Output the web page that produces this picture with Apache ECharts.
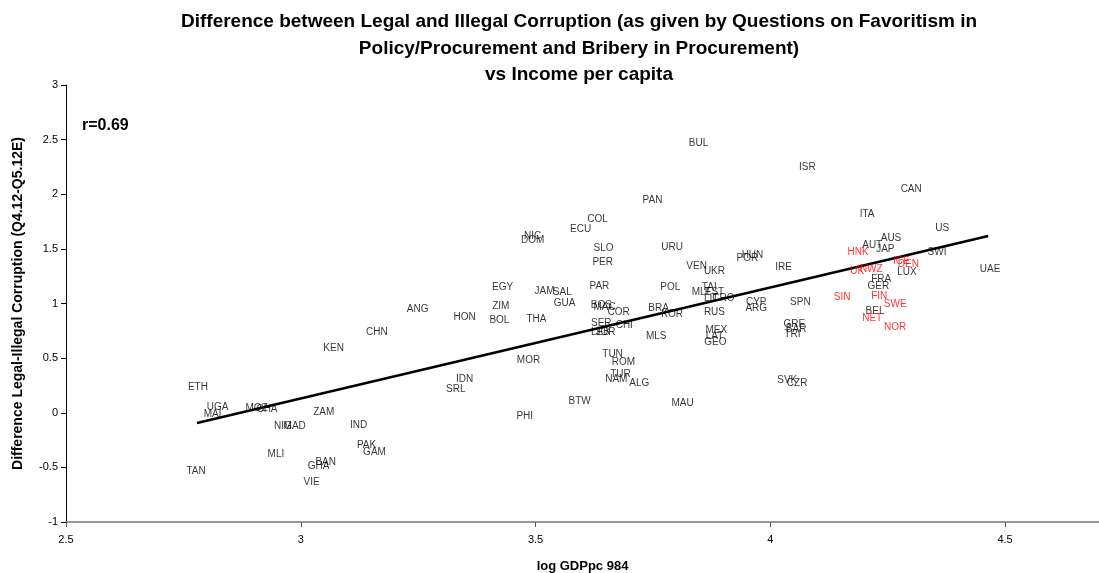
<!DOCTYPE html>
<html>
<head>
<meta charset="utf-8">
<script src="https://cdn.jsdelivr.net/npm/echarts@6/dist/echarts.min.js"></script>
<style>
  html, body { margin: 0; padding: 0; background: #fff; }
  #chart { width: 1099px; height: 573px; }
</style>
</head>
<body>
<div id="chart"></div>
<script>
// country codes, log GDPpc 984 (x) and legal-illegal difference (y)
var codes = ['ETH','UGA','MAL','MOZ','CHA','ZAM','NIG','MAD','IND','PAK','GAM','MLI','BAN','GHA','VIE','TAN','KEN','CHN','ANG',
  'PAN','COL','ECU','NIC','DOM','SLO','PER','EGY','JAM','SAL','PAR','ZIM','GUA','HON','BOL','THA','BOS','MAC','COR','BRA','KOR',
  'SER','CHI','LEB','JOR','MLS','MOR','TUN','ROM','TUR','NAM','ALG','IDN','SRL','BTW','PHI','MAU','BUL','ISR','URU','VEN','UKR',
  'POR','HUN','IRE','POL','MLT','TAI','EST','LIT','CRO','RUS','CYP','ARG','SPN','MEX','LAT','GEO','GRE','BAR','TRI','SVK','CZR',
  'AUS','AUT','JAP','HNK','ICE','DEN','SWI','UK','NWZ','LUX','FRA','GER','SIN','FIN','SWE','BEL','NET','NOR','CAN','ITA','US','UAE'];
var gdp = [2.781,2.823,2.815,2.906,2.928,3.049,2.962,2.987,3.123,3.140,3.157,2.947,3.053,3.038,3.023,2.777,3.070,3.162,3.249,
  3.749,3.632,3.596,3.494,3.494,3.645,3.643,3.430,3.519,3.557,3.636,3.426,3.562,3.349,3.423,3.502,3.640,3.647,3.677,3.762,3.791,
  3.640,3.689,3.638,3.649,3.757,3.485,3.664,3.687,3.681,3.672,3.721,3.349,3.330,3.594,3.477,3.813,3.847,4.079,3.791,3.843,3.881,
  3.951,3.962,4.028,3.787,3.853,3.870,3.881,3.874,3.900,3.881,3.970,3.970,4.064,3.885,3.881,3.883,4.051,4.055,4.047,4.036,4.057,
  4.257,4.217,4.245,4.187,4.279,4.294,4.355,4.185,4.215,4.291,4.236,4.230,4.153,4.232,4.266,4.223,4.217,4.266,4.300,4.206,4.366,4.468];
var diff = [0.236,0.053,-0.011,0.043,0.034,0.007,-0.121,-0.121,-0.112,-0.295,-0.359,-0.378,-0.451,-0.487,-0.634,-0.533,0.593,0.739,0.949,
  1.947,1.773,1.682,1.618,1.581,1.508,1.380,1.152,1.115,1.105,1.160,0.977,1.005,0.876,0.849,0.858,0.986,0.968,0.922,0.959,0.904,
  0.821,0.803,0.739,0.739,0.702,0.483,0.538,0.465,0.355,0.309,0.273,0.309,0.218,0.108,-0.030,0.089,2.469,2.249,1.517,1.343,1.297,
  1.416,1.444,1.334,1.152,1.105,1.152,1.105,1.050,1.050,0.922,1.014,0.959,1.014,0.757,0.702,0.648,0.812,0.767,0.721,0.300,0.273,
  1.600,1.536,1.499,1.471,1.389,1.361,1.471,1.297,1.316,1.288,1.224,1.160,1.060,1.069,0.995,0.931,0.867,0.785,2.048,1.819,1.691,1.316];
// countries printed in red
var redCodes = ['HNK','ICE','DEN','UK','NWZ','SIN','FIN','SWE','NET','NOR'];

// fitted line end points
var trendX = [2.779, 4.464];
var trendY = [-0.094, 1.618];

var xTicks = [2.5, 3, 3.5, 4, 4.5];

var blackPts = [];
var redPts = [];
for (var i = 0; i < codes.length; i++) {
  var pt = { name: codes[i], value: [gdp[i], diff[i]] };
  if (redCodes.indexOf(codes[i]) >= 0) {
    redPts.push(pt);
  } else {
    blackPts.push(pt);
  }
}
var trendData = trendX.map(function (x, k) { return [x, trendY[k]]; });

var font = 'Arial, "Liberation Sans", sans-serif';

function labelSeries(data, color) {
  return {
    type: 'scatter',
    data: data,
    symbolSize: 0,
    silent: true,
    z: 3,
    label: {
      show: true,
      position: 'inside',
      formatter: '{b}',
      color: color,
      fontFamily: font,
      fontSize: 10
    }
  };
}

var chart = echarts.init(document.getElementById('chart'));
chart.setOption({
  animation: false,
  backgroundColor: '#fff',
  title: {
    text: 'Difference between Legal and Illegal Corruption (as given by Questions on Favoritism in\nPolicy/Procurement and Bribery in Procurement)\nvs Income per capita',
    left: 574,
    top: 4,
    textAlign: 'center',
    textStyle: {
      fontFamily: font,
      fontSize: 19,
      fontWeight: 'bold',
      lineHeight: 26.5,
      color: '#000'
    }
  },
  graphic: [{
    type: 'text',
    left: 82,
    top: 118,
    style: { text: 'r=0.69', font: 'bold 16px ' + font, fill: '#000' }
  }],
  grid: { left: 66, top: 85, right: 0, bottom: 51, outerBoundsMode: 'none' },
  xAxis: {
    type: 'value',
    min: 2.5,
    max: 4.7,
    interval: 0.5,
    name: 'log GDPpc 984',
    nameLocation: 'middle',
    nameGap: 38,
    nameTextStyle: { fontFamily: font, fontSize: 13, fontWeight: 'bold', color: '#000' },
    axisLine: { onZero: false, lineStyle: { color: '#777', width: 1.5 } },
    axisTick: { show: true, length: 5, lineStyle: { color: '#555' }, customValues: xTicks },
    axisLabel: { color: '#000', fontFamily: font, fontSize: 11, margin: 12, customValues: xTicks },
    splitLine: { show: false }
  },
  yAxis: {
    type: 'value',
    min: -1,
    max: 3,
    interval: 0.5,
    name: 'Difference Legal-Illegal Corruption (Q4.12-Q5.12E)',
    nameLocation: 'middle',
    nameGap: 41,
    nameTextStyle: { fontFamily: font, fontSize: 14, fontWeight: 'bold', color: '#000' },
    axisLine: { show: true, onZero: false, lineStyle: { color: '#000', width: 1 } },
    axisTick: { show: true, length: 5, lineStyle: { color: '#000' } },
    axisLabel: { color: '#000', fontFamily: font, fontSize: 11, margin: 8 },
    splitLine: { show: false }
  },
  series: [
    {
      type: 'line',
      data: trendData,
      symbol: 'none',
      silent: true,
      z: 2,
      lineStyle: { color: '#000', width: 2.5 }
    },
    labelSeries(blackPts, '#000'),
    labelSeries(redPts, '#ff0000')
  ]
});
</script>
</body>
</html>
